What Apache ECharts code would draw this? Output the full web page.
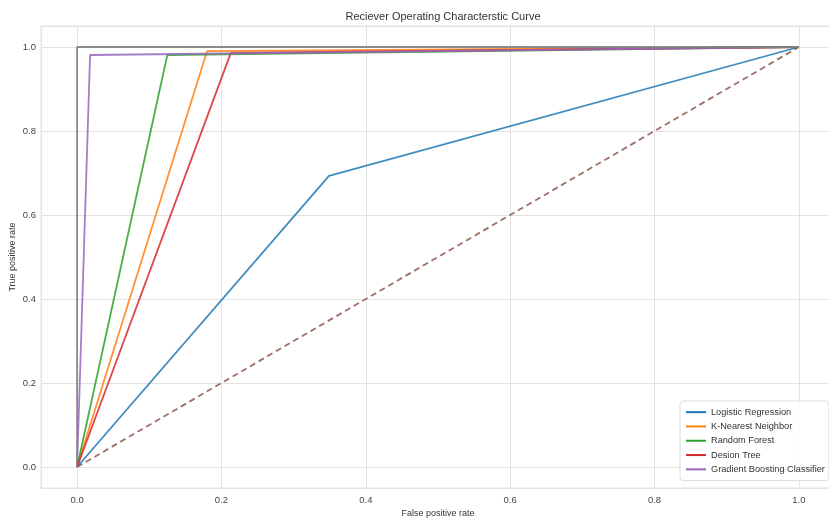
<!DOCTYPE html>
<html>
<head>
<meta charset="utf-8">
<script src="https://cdn.jsdelivr.net/npm/echarts@6/dist/echarts.min.js"></script>
<style>html,body{margin:0;padding:0;background:#fff;}#c{width:829px;height:520px;}</style>
</head>
<body>
<div id="c"></div>
<script>
var seriesNames = ["Logistic Regression", "K-Nearest Neighbor", "Random Forest", "Desion Tree", "Gradient Boosting Classifier"];
var lrFpr = [0, 0.349, 1], lrTpr = [0, 0.693, 1];
var knnFpr = [0, 0.180, 1], knnTpr = [0, 0.990, 1];
var rfFpr = [0, 0.125, 1], rfTpr = [0, 0.981, 1];
var dtFpr = [0, 0.213, 1], dtTpr = [0, 0.986, 1];
var gbFpr = [0, 0.018, 1], gbTpr = [0, 0.981, 1];
var perfectFpr = [0, 0, 1], perfectTpr = [0, 1, 1];
var chanceFpr = [0, 1], chanceTpr = [0, 1];
var colors = ["#1f77b4", "#ff7f0e", "#2ca02c", "#d62728", "#9467bd"];

function pts(xs, ys) { return xs.map(function (x, i) { return [x, ys[i]]; }); }

var curves = [[lrFpr, lrTpr], [knnFpr, knnTpr], [rfFpr, rfTpr], [dtFpr, dtTpr], [gbFpr, gbTpr]];
var series = curves.map(function (c, i) {
  return {
    name: seriesNames[i], type: 'line', data: pts(c[0], c[1]), symbol: 'none',
    lineStyle: { color: colors[i], width: 1.8, opacity: 0.85 }, itemStyle: { color: colors[i] }, z: 2
  };
});
series.push({
  name: 'chance', type: 'line', data: pts(chanceFpr, chanceTpr), symbol: 'none',
  lineStyle: { color: '#8c564b', width: 1.8, type: [6, 4], opacity: 0.85 }, z: 2
});
series.push({
  name: 'perfect', type: 'line', data: pts(perfectFpr, perfectTpr), symbol: 'none',
  lineStyle: { color: '#7f7f7f', width: 1.8, opacity: 0.9 }, z: 3
});

var axisCommon = {
  type: 'value', min: -0.05, max: 1.05, minInterval: 0.2, maxInterval: 0.2,
  axisLine: { show: false }, axisTick: { show: false },
  splitLine: { show: true, lineStyle: { color: '#e3e3e3', width: 1 } },
  nameTextStyle: { color: '#333', fontSize: 9, fontFamily: 'Liberation Sans' },
  nameLocation: 'middle', nameMoveOverlap: false
};

var chart = echarts.init(document.getElementById('c'));
chart.setOption({
  animation: false,
  backgroundColor: '#fff',
  title: {
    text: 'Reciever Operating Characterstic Curve', left: 438, top: 6, textAlign: 'center',
    textStyle: { fontSize: 11, fontWeight: 'normal', color: '#333', fontFamily: 'Liberation Sans' }
  },
  grid: { left: 41, top: 26, width: 794, height: 462, show: true, borderColor: '#e3e3e3', borderWidth: 1,
    containLabel: false, outerBoundsMode: 'none' },
  xAxis: Object.assign({}, axisCommon, {
    name: 'False positive rate', nameGap: 21,
    axisLabel: { showMinLabel: false, showMaxLabel: false, margin: 7, color: '#444', fontSize: 9.5, fontFamily: 'Liberation Sans',
      formatter: function (v) { return v.toFixed(1); } }
  }),
  yAxis: Object.assign({}, axisCommon, {
    name: 'True positive rate', nameGap: 24,
    axisLabel: { showMinLabel: false, showMaxLabel: false, margin: 5, color: '#444', fontSize: 9.5, fontFamily: 'Liberation Sans',
      formatter: function (v) { return v.toFixed(1); } }
  }),
  legend: {
    data: seriesNames, orient: 'vertical', left: 680, top: 401,
    itemWidth: 20, itemHeight: 2, itemGap: 4, icon: 'rect',
    padding: [6, 4, 6, 6], borderColor: '#dddddd', borderWidth: 1, borderRadius: 3,
    backgroundColor: 'rgba(255,255,255,0.85)',
    textStyle: { fontSize: 9.2, color: '#333', fontFamily: 'Liberation Sans', lineHeight: 10.3 }
  },
  series: series
});
</script>
</body>
</html>
